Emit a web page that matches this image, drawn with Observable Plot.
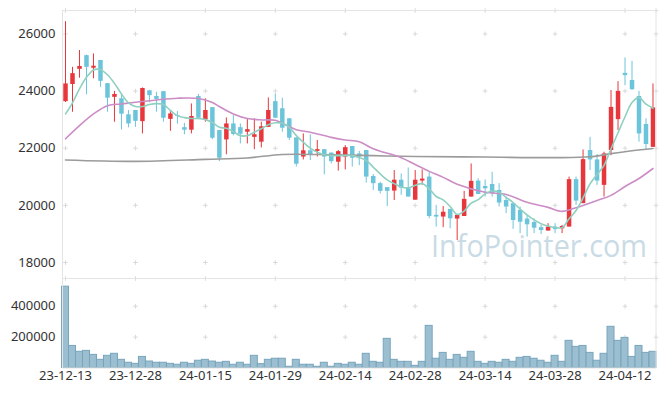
<!DOCTYPE html>
<html><head><meta charset="utf-8">
<script src="https://cdn.jsdelivr.net/npm/d3@7"></script>
<script src="https://cdn.jsdelivr.net/npm/@observablehq/plot@0.6"></script>
<style>
body{margin:0;background:#fff;}
#chart{position:relative;width:665px;height:396px;}
#chart svg{position:absolute;left:0;top:0;}
</style></head><body><div id="chart"></div>
<script>
const dates = ["23-12-13","23-12-14","23-12-15","23-12-18","23-12-19","23-12-20","23-12-21","23-12-22","23-12-26","23-12-27","23-12-28",
"24-01-02","24-01-03","24-01-04","24-01-05","24-01-08","24-01-09","24-01-10","24-01-11","24-01-12","24-01-15",
"24-01-16","24-01-17","24-01-18","24-01-19","24-01-22","24-01-23","24-01-24","24-01-25","24-01-26","24-01-29",
"24-01-30","24-01-31","24-02-01","24-02-02","24-02-05","24-02-06","24-02-07","24-02-08","24-02-13","24-02-14",
"24-02-15","24-02-16","24-02-19","24-02-20","24-02-21","24-02-22","24-02-23","24-02-26","24-02-27","24-02-28",
"24-02-29","24-03-04","24-03-05","24-03-06","24-03-07","24-03-08","24-03-11","24-03-12","24-03-13","24-03-14",
"24-03-15","24-03-18","24-03-19","24-03-20","24-03-21","24-03-22","24-03-25","24-03-26","24-03-27","24-03-28",
"24-03-29","24-04-01","24-04-02","24-04-03","24-04-04","24-04-05","24-04-08","24-04-09","24-04-11","24-04-12",
"24-04-15","24-04-16","24-04-17","24-04-18"];
const openP = [23630,24230,24760,25240,24800,25070,24260,23780,23730,23170,23320,22930,24010,23810,23980,23010,23140,22720,22630,23810,22990,23420,22620,22290,22850,22720,22560,22380,22210,22730,23630,23380,23030,22360,21690,21910,21890,21950,21830,21510,21690,22060,21800,21920,21010,20760,20620,20500,20880,20620,20180,20850,20990,19650,19590,19860,19520,19610,20290,20850,20660,20730,20520,20170,20060,19820,19520,19400,19220,19100,19240,19180,19240,20900,20060,21920,21590,20700,21920,23000,24620,24370,23810,22830,22030];
const highP = [26430,24830,25420,25260,25300,25070,24260,23990,23880,23320,23320,24110,24010,23960,23980,23320,23280,22870,23550,23880,23730,23420,22620,23060,23140,22850,23030,23030,22910,23760,23900,23750,23030,22360,22500,22470,22270,21950,21830,21920,22090,22060,21890,21920,21080,20810,20620,21220,21100,21310,21220,21240,21160,20000,19960,19860,19650,20490,21450,20930,20890,21160,20760,20290,20060,19940,19650,19530,19300,19360,19360,19300,20990,20990,21940,22380,21780,21860,24020,24330,25160,25040,23990,23030,24250];
const lowP = [23600,23260,24450,23870,24430,24130,23260,22910,22640,22710,22730,22500,23590,23260,22910,22590,22840,22470,22500,23000,22910,22300,21530,21770,22430,22150,22150,21950,22010,22730,23050,22560,22270,21340,21590,21570,21690,21070,21450,21200,21240,21340,21390,20780,20520,20400,19960,20170,20350,20290,20180,20700,19530,19240,19220,19180,18770,19610,20290,20380,20290,20290,19940,19710,19160,19010,18890,19010,18980,19100,19010,19010,19240,20000,20060,21220,20700,20290,21740,22620,24190,24020,22210,21920,22030];
const closeP = [24250,24610,24860,24830,24870,24340,23750,23880,23190,22850,22940,24090,23840,23710,23050,23200,23110,22630,23110,23050,23320,22350,21650,22850,22480,22490,22650,22470,22750,23320,23050,22700,22350,21440,21910,21780,21950,21690,21530,21880,22020,21650,21690,20990,20760,20490,20490,20880,20600,20290,20880,20920,19610,19590,19760,19530,19650,20210,20840,20380,20580,20410,20080,19940,19470,19410,19320,19200,19120,19240,19150,19260,20900,20150,21600,21590,20850,21800,23430,23990,24540,24050,22500,22130,23410];
const volume = [527000,143000,105000,111000,85000,53000,79000,92000,53000,34000,27000,72000,42000,34000,34000,27000,21000,34000,27000,47000,53000,42000,34000,40000,21000,34000,21000,79000,25000,53000,60000,60000,8000,53000,21000,21000,8000,34000,8000,27000,21000,34000,21000,92000,40000,34000,189000,53000,40000,40000,14000,40000,273000,60000,98000,53000,85000,66000,105000,40000,27000,40000,34000,53000,40000,66000,72000,60000,47000,34000,79000,40000,176000,137000,143000,98000,47000,92000,267000,176000,195000,72000,143000,98000,105000];
const ma5 = [23200,23590,24080,24480,24740,24750,24570,24270,23900,23590,23460,23460,23530,23560,23530,23320,23140,23070,23040,23040,23000,22900,22730,22700,22580,22440,22440,22560,22680,22820,22890,22870,22730,22440,22210,22000,21860,21770,21740,21740,21740,21740,21670,21570,21340,21100,20890,20760,20640,20610,20700,20760,20580,20310,20190,19960,19680,19800,20080,20200,20400,20500,20460,20280,20100,19870,19670,19490,19360,19280,19230,19220,19530,19820,20260,20750,21080,21400,21980,22540,23100,23600,23770,23540,23400];
const ma20Idx = [0,2,4,6,8,10,13,16,19,21,22,24,26,28,30,31,33,35,38,40,42,44,48,50,52,54,56,60,63,66,69,71,73,76,78,80,82,84];
const ma20Val = [22330,22790,23200,23490,23550,23610,23690,23750,23740,23600,23460,23200,23040,22990,22980,22870,22650,22560,22380,22290,22230,21980,21670,21430,21190,20980,20740,20460,20380,20110,19930,19790,19920,20170,20350,20660,20940,21290];
const ma120Idx = [0,10,20,26,31,38,44,50,60,70,75,78,81,84];
const ma120Val = [21590,21540,21610,21660,21780,21770,21740,21710,21690,21670,21700,21810,21910,21990];
const tickIdx = [0,10,20,30,40,50,60,70,80];
const priceTicks = [18000,20000,22000,24000,26000];
const volTicks = [200000,400000];

const W = 665, H = 396;
const xDomain = [-0.43, 84.43];
const priceDomain = [17440, 26820];
const volDomain = [0, 580000];
const RED = "#e8373c", BLUE = "#6cc4db";
const FONT = "'Noto Sans', 'Open Sans', sans-serif";

const rows = dates.map((d, i) => ({i, d, o: openP[i], h: highP[i], l: lowP[i], c: closeP[i], v: volume[i]}));
const ups = rows.filter(r => r.c >= r.o), downs = rows.filter(r => r.c < r.o);
const ma5Rows = ma5.map((v, i) => ({i, v}));
const ma20Rows = ma20Idx.map((i, k) => ({i, v: ma20Val[k]}));
const ma120Rows = ma120Idx.map((i, k) => ({i, v: ma120Val[k]}));

function gridPts(yTicks, yTop) {
  const xs = [...tickIdx, xDomain[1]];
  const ys = [...yTicks, yTop];
  const pts = [];
  for (const x of xs) for (const y of ys) pts.push({x, y});
  return pts;
}

const axisStyle = {fontSize: 13, fill: "#333", tickSize: 0, label: null};

const price = Plot.plot({
  width: W, height: H,
  marginTop: 10, marginBottom: 118, marginLeft: 62, marginRight: 9.5,
  style: {background: "transparent", fontFamily: FONT, overflow: "visible"},
  x: {domain: xDomain, axis: null},
  y: {domain: priceDomain, axis: null},
  marks: [
    Plot.dot(gridPts(priceTicks, priceDomain[1]), {x: "x", y: "y", symbol: "plus", r: 1.6, stroke: "#d9d9d9", strokeWidth: 1}),
    Plot.text(["InfoPointer.com"], {text: d => d, frameAnchor: "bottom-right", dx: -9, dy: -22, textAnchor: "end", fontSize: 31, fill: "#c9dbe5", fontFamily: "'Open Sans', sans-serif", className: "wm"}),
    Plot.axisY({ticks: priceTicks, tickFormat: d => String(d), tickPadding: 7, ...axisStyle}),
    Plot.ruleX(ups, {x: "i", y1: "l", y2: "h", stroke: RED, strokeWidth: 1}),
    Plot.ruleX(ups, {x: "i", y1: "o", y2: "c", stroke: RED, strokeWidth: 4.5}),
    Plot.ruleX(downs, {x: "i", y1: "l", y2: "h", stroke: BLUE, strokeWidth: 1}),
    Plot.ruleX(downs, {x: "i", y1: "o", y2: "c", stroke: BLUE, strokeWidth: 4.5}),
    Plot.line(ma120Rows, {x: "i", y: "v", stroke: "#9b9b9b", strokeWidth: 1.6, curve: "catmull-rom"}),
    Plot.line(ma20Rows, {x: "i", y: "v", stroke: "#cc8dc6", strokeWidth: 1.6, curve: "catmull-rom"}),
    Plot.line(ma5Rows, {x: "i", y: "v", stroke: "#8fd0c1", strokeWidth: 1.6, curve: "catmull-rom"}),
    Plot.frame({stroke: "#e4e4e4"})
  ]
});

const vol = Plot.plot({
  width: W, height: H,
  marginTop: 278, marginBottom: 28.5, marginLeft: 62, marginRight: 9.5,
  style: {background: "transparent", fontFamily: FONT, overflow: "visible"},
  x: {domain: xDomain, axis: null},
  y: {domain: volDomain, axis: null},
  marks: [
    Plot.dot(gridPts(volTicks, volDomain[1]), {x: "x", y: "y", symbol: "plus", r: 1.6, stroke: "#d9d9d9", strokeWidth: 1}),
    Plot.rectY(rows, {x1: d => d.i - 0.5, x2: d => d.i + 0.5, y: "v", fill: "#9bbfd0", stroke: "#78a5bc", strokeWidth: 1}),
    Plot.axisY({ticks: volTicks, tickFormat: d => String(d), tickPadding: 7, ...axisStyle}),
    Plot.axisX({ticks: tickIdx, tickFormat: i => dates[i], tickPadding: 3, ...axisStyle}),
    Plot.frame({stroke: "#e4e4e4"})
  ]
});

const host = document.getElementById("chart");
host.appendChild(price);
host.appendChild(vol);
const wm = price.querySelector(".wm text");
if (wm) { wm.setAttribute("textLength", "216"); wm.setAttribute("lengthAdjust", "spacingAndGlyphs"); }
</script></body></html>
